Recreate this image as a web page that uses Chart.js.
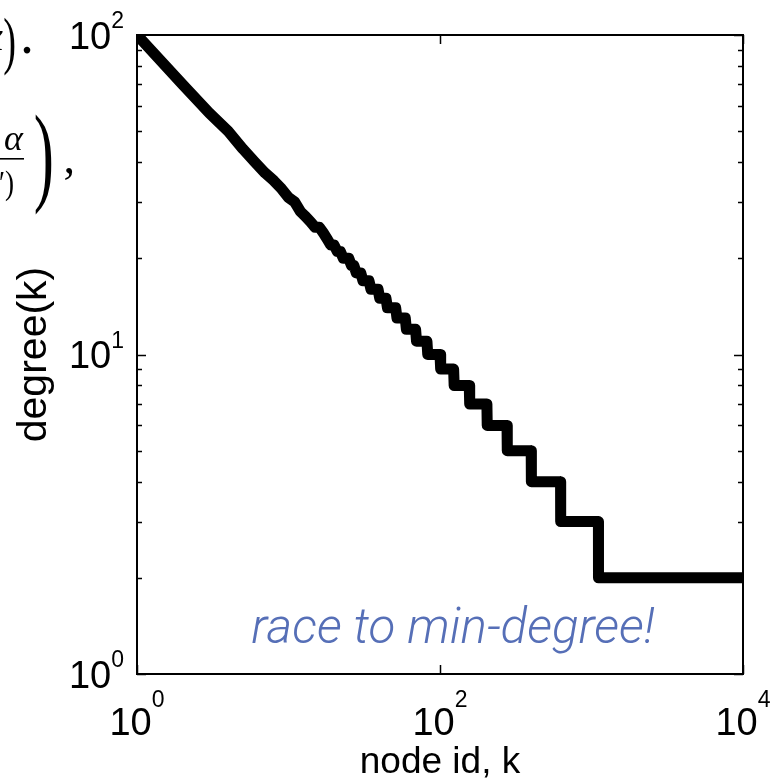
<!DOCTYPE html>
<html>
<head>
<meta charset="utf-8">
<script src="https://cdn.jsdelivr.net/npm/chart.js@4.4.1/dist/chart.umd.min.js"></script>
<style>
  html, body { margin: 0; padding: 0; background: #fff; }
  canvas { display: block; }
</style>
</head>
<body>
<canvas id="c" width="780" height="782"></canvas>
<script>
// ---- data ----
const nodeIds = [1,2,3,4,5,6,7,8,9,10,11,12,13,14,15,16,17,18,19,20,
  21,22,23,25,26,27,28,30,31,34,35,39,40,44,45,51,52,59,60,69,
  70,82,83,100,101,123,124,156,157,204,205,277,278,400,401,625,626,1111,1112,10000];
const degrees = [100,70,57,50,44,40,37,35,33,31,30,28,27,26,25,25,24,23,22,22,
  21,21,20,20,19,19,18,18,17,17,16,16,15,15,14,14,13,13,12,12,
  11,11,10,10,9,9,8,8,7,7,6,6,5,5,4,4,3,3,2,2];

const xTickValues = [1, 100, 10000];
const xTickExponents = ['0', '2', '4'];
const yTickValues = [1, 10, 100];
const yTickExponents = ['0', '1', '2'];
const yMinorMultipliers = [2,3,4,5,6,7,8,9];

const xAxisTitle = 'node id, k';
const yAxisTitle = 'degree(k)';
const annotationText = 'race to min-degree!';

const points = nodeIds.map((k, i) => ({ x: k, y: degrees[i] }));

const SANS = '"Liberation Sans", Arial, Helvetica, sans-serif';
const SERIF = '"Liberation Serif", "DejaVu Serif", serif';

function thinText(ctx, txt, x, y, font, sx) {
  ctx.save();
  ctx.translate(x, y);
  ctx.scale(sx, 1);
  ctx.font = font;
  ctx.textAlign = 'right';
  ctx.fillText(txt, 0, 0);
  ctx.restore();
}

const decor = {
  id: 'decor',
  afterDatasetsDraw(chart) {
    const { ctx, chartArea: a, scales: { x, y } } = chart;
    ctx.save();
    ctx.strokeStyle = '#000';
    ctx.lineWidth = 2;
    ctx.strokeRect(a.left, a.top, a.right - a.left, a.bottom - a.top);

    // y ticks (inward, both sides)
    ctx.lineWidth = 1.5;
    const yTickPos = [];
    yTickValues.forEach(v => yTickPos.push([v, 9]));
    for (let d = 0; d < yTickValues.length - 1; d++) {
      yMinorMultipliers.forEach(m => yTickPos.push([yTickValues[d] * m, 5]));
    }
    yTickPos.forEach(([v, len]) => {
      const py = Math.round(y.getPixelForValue(v)) + 0.5;
      ctx.beginPath();
      ctx.moveTo(a.left, py); ctx.lineTo(a.left + len, py);
      ctx.moveTo(a.right, py); ctx.lineTo(a.right - len, py);
      ctx.stroke();
    });
    // x ticks (inward, top and bottom)
    xTickValues.forEach(v => {
      const px = Math.round(x.getPixelForValue(v)) + 0.5;
      ctx.beginPath();
      ctx.moveTo(px, a.bottom); ctx.lineTo(px, a.bottom - 9);
      ctx.moveTo(px, a.top); ctx.lineTo(px, a.top + 9);
      ctx.stroke();
    });

    // tick labels
    ctx.fillStyle = '#000';
    const bigF = '38px ' + SANS;
    const supF = '23px ' + SANS;
    // y labels
    yTickValues.forEach((v, i) => {
      const py = y.getPixelForValue(v);
      ctx.font = supF;
      const sw = ctx.measureText(yTickExponents[i]).width;
      const right = a.left - 13;
      ctx.textAlign = 'left';
      ctx.textBaseline = 'alphabetic';
      ctx.fillText(yTickExponents[i], right - sw, py - 7);
      ctx.font = bigF;
      ctx.textAlign = 'right';
      ctx.fillText('10', right - sw, py + 13.5);
    });
    // x labels
    xTickValues.forEach((v, i) => {
      const px = x.getPixelForValue(v);
      ctx.font = bigF;
      const bw = ctx.measureText('10').width;
      ctx.font = supF;
      const sw = ctx.measureText(xTickExponents[i]).width;
      const left = px - (bw + sw) / 2;
      ctx.textAlign = 'left';
      ctx.textBaseline = 'alphabetic';
      ctx.font = bigF;
      ctx.fillText('10', left, 735);
      ctx.font = supF;
      ctx.fillText(xTickExponents[i], left + bw, 707);
    });

    // axis titles
    ctx.font = '37px ' + SANS;
    ctx.textAlign = 'center';
    ctx.fillText(xAxisTitle, (a.left + a.right) / 2, 773);
    ctx.save();
    ctx.translate(46, (a.top + a.bottom) / 2);
    ctx.rotate(-Math.PI / 2);
    ctx.font = '41px ' + SANS;
    ctx.fillText(yAxisTitle, 0, 0);
    ctx.restore();

    // annotation (light italic, fitted to the reference width)
    let fs = 46;
    const fam = '"Roboto", "Liberation Sans", sans-serif';
    ctx.font = 'italic 300 ' + fs + 'px ' + fam;
    const w = ctx.measureText(annotationText).width;
    fs = fs * 403 / w;
    ctx.font = 'italic 300 ' + fs.toFixed(1) + 'px ' + fam;
    ctx.fillStyle = 'rgb(86,111,183)';
    ctx.textAlign = 'center';
    ctx.fillText(annotationText, 453, 643);

    // cut-off fragments of neighbouring equation text on the left
    ctx.fillStyle = '#000';
    ctx.textAlign = 'right';
    ctx.font = 'italic 40px ' + SERIF;
    ctx.fillText('x', 3, 50);
    thinText(ctx, ')', 16, 62, '64px ' + SERIF, 0.6);
    ctx.font = '56px ' + SERIF;
    ctx.fillText('.', 34, 53);
    ctx.font = 'italic 36px ' + SERIF;
    ctx.fillText('\u03B1', 23, 150);
    ctx.fillRect(-2, 158, 26, 1.6);
    thinText(ctx, '(k\u2032)', 14, 194, '34px ' + SERIF, 0.8);
    thinText(ctx, ')', 54, 191, '110px ' + SERIF, 0.55);
    ctx.font = '46px ' + SERIF;
    ctx.fillText(',', 75, 173);
    ctx.restore();
  }
};

new Chart(document.getElementById('c'), {
  type: 'line',
  data: {
    datasets: [{
      data: points,
      borderColor: '#000',
      borderWidth: 11,
      borderJoinStyle: 'round',
      borderCapStyle: 'round',
      pointRadius: 0,
      tension: 0,
      fill: false,
      clip: 0
    }]
  },
  options: {
    responsive: false,
    animation: false,
    devicePixelRatio: 1,
    layout: { padding: { left: 137, top: 35, right: 37, bottom: 108 } },
    plugins: { legend: { display: false }, tooltip: { enabled: false } },
    scales: {
      x: { type: 'logarithmic', min: 1, max: 10000, display: false },
      y: { type: 'logarithmic', min: 1, max: 100, display: false }
    }
  },
  plugins: [decor]
});
</script>
</body>
</html>
